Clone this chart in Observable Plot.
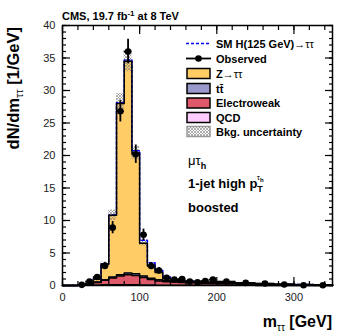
<!DOCTYPE html>
<html><head><meta charset="utf-8">
<script src="https://cdn.jsdelivr.net/npm/d3@7"></script>
<script src="https://cdn.jsdelivr.net/npm/@observablehq/plot@0.6"></script>
<style>body{margin:0;background:#fff}#chart{width:349px;height:335px}</style>
</head><body><div id="chart"></div>
<script>
// Bin edges of m_tautau [GeV]
const binEdges = [0,10,20,30,40,50,60,70,80,90,100,110,120,130,140,150,160,170,180,190,200,225,250,275,300,325,350];
// Background components, dN/dm [1/GeV]
const qcd   = [0,0,0.02,0.05,0.08,0.1,0.12,0.12,0.12,0.1,0.08,0.06,0.05,0.04,0.04,0.03,0.03,0.03,0.02,0.02,0.02,0.02,0.01,0.01,0.01,0.01];
const ewk   = [0,0,0.03,0.15,0.4,0.7,1.05,1.35,1.55,1.45,1.15,0.85,0.65,0.55,0.5,0.45,0.42,0.38,0.34,0.3,0.26,0.2,0.16,0.12,0.09,0.07];
const ttbar = [0,0,0,0.02,0.05,0.1,0.15,0.2,0.25,0.25,0.22,0.2,0.17,0.14,0.12,0.1,0.09,0.08,0.07,0.06,0.05,0.04,0.03,0.03,0.02,0.02];
const ztt   = [0,0,0.05,0.08,0.47,2.4,9.48,26.33,32.58,18.6,5.05,1.99,1.13,0.37,0.14,0.12,0.11,0.11,0.12,0.12,0.09,0.07,0.06,0.04,0.03,0.02];
const higgs = [0,0,0,0,0,0,0.05,0.1,0.2,0.35,0.45,0.4,0.3,0.2,0.12,0.07,0.04,0,0,0,0,0,0,0,0,0];
const bkgUnc = [0,0,0.02,0.04,0.1,0.3,0.8,1.5,1.6,1.0,0.4,0.2,0.15,0.1,0.08,0.07,0.06,0.06,0.05,0.05,0.04,0.03,0.03,0.02,0.02,0.02];
// Observed data
const observed = [null,null,0.1,0.6,1.3,3.0,8.9,26.8,36.0,20.2,7.8,3.0,2.3,1.2,0.9,1.0,0.6,0.5,0.7,0.9,0.6,0.4,0.3,0.15,0.05,0.03];
const observedErr = [0,0,0.1,0.25,0.36,0.55,0.94,1.64,1.9,1.42,0.88,0.55,0.48,0.35,0.3,0.32,0.25,0.22,0.26,0.3,0.15,0.13,0.11,0.08,0.045,0.035];
// Axis ticks
const yMajor = [0,5,10,15,20,25,30,35,40];
const yMinor = d3.range(0,41,1);
const xMajor = [0,100,200,300];
const xMinor = d3.range(0,351,20);

const nb = binEdges.length - 1;
const sumOf = (...arrs) => d3.range(nb).map(i => arrs.reduce((s,a)=>s+a[i],0));
const cQ = sumOf(qcd), cE = sumOf(qcd,ewk), cT = sumOf(qcd,ewk,ttbar), cZ = sumOf(qcd,ewk,ttbar,ztt), cS = sumOf(qcd,ewk,ttbar,ztt,higgs);
function steps(vals){
  const pts=[{x:binEdges[0],y:0}];
  vals.forEach((v,i)=>{pts.push({x:binEdges[i],y:v},{x:binEdges[i+1],y:v});});
  pts.push({x:binEdges[nb],y:0});
  return pts;
}
const bins = d3.range(nb).map(i=>({x1:binEdges[i],x2:binEdges[i+1],xc:(binEdges[i]+binEdges[i+1])/2,
  tot:cZ[i],unc:bkgUnc[i],obs:observed[i],err:observedErr[i]}));
const dataBins = bins.filter(d=>d.obs!=null);
const uncBins = bins.filter(d=>d.unc>0);

const fills = [[cZ,"#ffcc66"],[cT,"#9999cc"],[cE,"#de5a6a"],[cQ,"#ffccff"]];
const marks = [];
for (const [c,f] of fills) marks.push(Plot.area(steps(c),{x1:"x",y1:0,y2:"y",fill:f}));
marks.push(Plot.rect(uncBins,{x1:"x1",x2:"x2",y1:d=>d.tot-d.unc,y2:d=>d.tot+d.unc,fill:"url(#hatch)"}));
marks.push(Plot.line(steps(cS),{x:"x",y:"y",stroke:"#0000ff",strokeWidth:1.5,strokeDasharray:"3,2"}));
for (const [c] of fills) marks.push(Plot.line(steps(c),{x:"x",y:"y",stroke:"black",strokeWidth:1.5}));
marks.push(Plot.ruleX(dataBins,{x:"xc",y1:d=>d.obs-d.err,y2:d=>d.obs+d.err,stroke:"black",strokeWidth:1.8}));
marks.push(Plot.ruleY(dataBins,{y:"obs",x1:"x1",x2:"x2",stroke:"black",strokeWidth:1.8}));
marks.push(Plot.dot(dataBins,{x:"xc",y:"obs",r:3.3,fill:"black"}));
marks.push(Plot.frame({stroke:"black",strokeWidth:1.5}));
// ticks inside the frame
const blank = () => "";
for (const a of ["left","right"]) {
  marks.push(Plot.axisY({anchor:a,ticks:yMinor,tickSize:-4,tickFormat:blank,strokeWidth:1.2}));
  marks.push(Plot.axisY({anchor:a,ticks:yMajor,tickSize:-8,tickFormat:blank,strokeWidth:1.2}));
}
for (const a of ["top","bottom"]) {
  marks.push(Plot.axisX({anchor:a,ticks:xMinor,tickSize:-4,tickFormat:blank,strokeWidth:1.2}));
  marks.push(Plot.axisX({anchor:a,ticks:xMajor,tickSize:-8,tickFormat:blank,strokeWidth:1.2}));
}
marks.push(Plot.axisY({anchor:"left",ticks:yMajor,tickSize:0,tickPadding:7,fill:"#222"}));
marks.push(Plot.axisX({anchor:"bottom",ticks:xMajor,tickSize:0,tickPadding:8,fill:"#222"}));

const plot = Plot.plot({
  width:349,height:335,marginLeft:62,marginRight:17,marginTop:25,marginBottom:50,
  x:{domain:[0,350],label:null},y:{domain:[0,40],label:null},
  style:{fontFamily:"'Liberation Sans', Arial, sans-serif",fontSize:"11px",background:"#fff",overflow:"visible"},
  marks
});
document.getElementById("chart").appendChild(plot);
const svg = d3.select(plot);
svg.insert("defs",":first-child").html(
  '<pattern id="hatch" patternUnits="userSpaceOnUse" width="3" height="3">'+
  '<path d="M0,3L3,0M0,0L3,3" stroke="#8a8a8a" stroke-width="0.7"/></pattern>');
const g = svg.append("g").attr("font-family","'Liberation Sans', Arial, sans-serif").attr("fill","black").attr("text-anchor","start");
// title
const t = g.append("text").attr("x",62).attr("y",20).attr("font-size",11).attr("font-weight","bold");
t.append("tspan").text("CMS, 19.7 fb");
t.append("tspan").attr("dy",-4).attr("font-size",8).text("-1");
t.append("tspan").attr("dy",4).text(" at 8 TeV");
// axis titles
const yt = g.append("text").attr("transform","translate(19,27) rotate(-90)").attr("text-anchor","end")
  .attr("font-size",16.5).attr("font-weight","bold");
yt.append("tspan").text("dN/dm");
yt.append("tspan").attr("dy",4).attr("font-size",11).attr("font-weight","normal").text("ττ");
yt.append("tspan").attr("dy",-4).text(" [1/GeV]");
const xt = g.append("text").attr("x",332).attr("y",327).attr("text-anchor","end").attr("font-size",16).attr("font-weight","bold");
xt.append("tspan").text("m");
xt.append("tspan").attr("dy",4).attr("font-size",10).attr("font-weight","normal").text("ττ");
xt.append("tspan").attr("dy",-4).text(" [GeV]");
// legend
const ly = [43.5,58.5,73.5,88.5,103,117.5,131.5];
const lg = g.append("g").attr("font-size",11).attr("font-weight","bold");
lg.append("line").attr("x1",186).attr("x2",211).attr("y1",ly[0]).attr("y2",ly[0]).attr("stroke","#0000ff").attr("stroke-width",1.5).attr("stroke-dasharray","3,2");
lg.append("line").attr("x1",186).attr("x2",211).attr("y1",ly[1]).attr("y2",ly[1]).attr("stroke","black").attr("stroke-width",1.8);
lg.append("circle").attr("cx",198.5).attr("cy",ly[1]).attr("r",3.3).attr("fill","black");
const boxes = ["#ffcc66","#9999cc","#de5a6a","#ffccff","url(#hatch)"];
boxes.forEach((c,i)=>lg.append("rect").attr("x",187).attr("y",ly[i+2]-5).attr("width",23).attr("height",10)
  .attr("fill",c).attr("stroke",i===4?"#999":"black").attr("stroke-width",1.5));
function ltext(i){return lg.append("text").attr("x",216).attr("y",ly[i]+4);}
let tx = ltext(0); tx.append("tspan").text("SM H(125 GeV)"); tx.append("tspan").attr("font-weight","normal").attr("font-size",11).text("→ττ");
tx = ltext(1); tx.text("Observed");
tx = ltext(2); tx.append("tspan").text("Z"); tx.append("tspan").attr("font-weight","normal").attr("font-size",11).text("→ττ");
tx = ltext(3); tx.text("tt\u0304");
ltext(4).text("Electroweak");
ltext(5).text("QCD");
ltext(6).text("Bkg. uncertainty");
// category annotations
const an = g.append("g");
let a1 = an.append("text").attr("x",188).attr("y",165).attr("font-size",13);
a1.append("tspan").text("μτ"); a1.append("tspan").attr("dy",4).attr("font-size",9).attr("font-weight","bold").text("h");
let a2 = an.append("text").attr("x",188).attr("y",188).attr("font-size",13).attr("font-weight","bold");
a2.append("tspan").text("1-jet high p");
a2.append("tspan").attr("dy",4).attr("font-size",9).text("T");
a2.append("tspan").attr("dx",-6).attr("dy",-12).attr("font-size",8).attr("font-weight","normal").text("τ");
a2.append("tspan").attr("dy",2).attr("font-size",6).text("h");
an.append("text").attr("x",188).attr("y",212).attr("font-size",13).attr("font-weight","bold").text("boosted");
</script></body></html>
